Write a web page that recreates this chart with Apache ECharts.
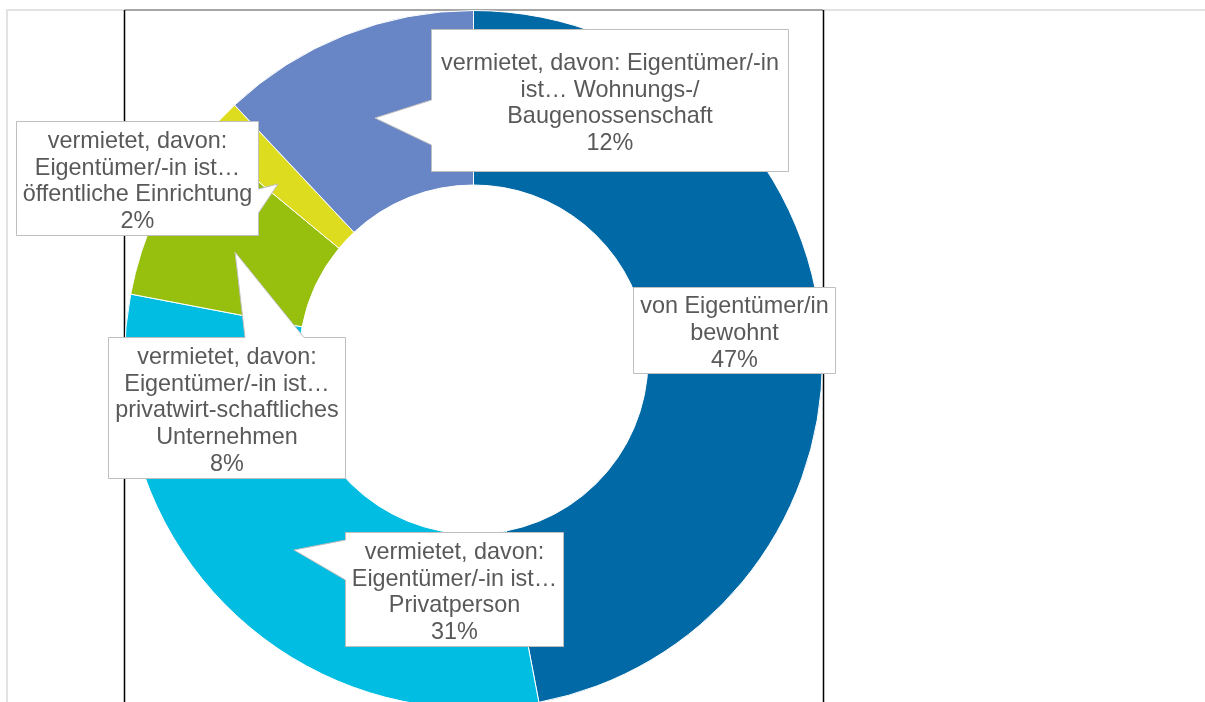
<!DOCTYPE html>
<html>
<head>
<meta charset="utf-8">
<title>Wohnverhältnis</title>
<script src="https://cdn.jsdelivr.net/npm/echarts@6/dist/echarts.min.js"></script>
<style>
  html, body { margin: 0; padding: 0; background: #ffffff; }
  #chart { width: 1205px; height: 702px; }
</style>
</head>
<body>
<div id="chart"></div>
<script>
// Categories of occupancy, in drawing order (clockwise from 12 o'clock)
const categories = [
  'von Eigentümer/in bewohnt',
  'vermietet, davon: Eigentümer/-in ist… Privatperson',
  'vermietet, davon: Eigentümer/-in ist… privatwirt-schaftliches Unternehmen',
  'vermietet, davon: Eigentümer/-in ist… öffentliche Einrichtung',
  'vermietet, davon: Eigentümer/-in ist… Wohnungs-/ Baugenossenschaft'
];

// Share of dwellings in percent
const shares = [47, 31, 8, 2, 12];

// Category names as they are wrapped inside the callouts
const wrappedNames = [
  'von Eigentümer/in\nbewohnt',
  'vermietet, davon:\nEigentümer/-in ist…\nPrivatperson',
  'vermietet, davon:\nEigentümer/-in ist…\nprivatwirt-schaftliches\nUnternehmen',
  'vermietet, davon:\nEigentümer/-in ist…\nöffentliche Einrichtung',
  'vermietet, davon: Eigentümer/-in\nist… Wohnungs-/\nBaugenossenschaft'
];

const sliceColors = ['#0069a6', '#00bde1', '#97bf0d', '#dedc1f', '#6886c5'];

// Callout boxes (left, top, right, bottom) and their pointers
const callouts = [
  { box: [633.5, 287.5, 835.5, 373.5], side: null },
  { box: [345.5, 532.5, 563.5, 646.5], side: 'left', base: [540, 580], tip: [294, 550] },
  { box: [108.5, 337.5, 345.5, 478.5], side: 'top', base: [245, 304], tip: [235, 252] },
  { box: [16.5, 121.5, 258.5, 235.5], side: 'right', base: [189, 213], tip: [278, 184] },
  { box: [431.5, 29.5, 788.5, 171.5], side: 'left', base: [100, 145], tip: [375, 118] }
];

function calloutPoints(c) {
  const [l, t, r, b] = c.box;
  if (c.side === 'left') {
    return [[l, t], [r, t], [r, b], [l, b], [l, c.base[1]], c.tip, [l, c.base[0]]];
  }
  if (c.side === 'right') {
    return [[l, t], [r, t], [r, c.base[0]], c.tip, [r, c.base[1]], [r, b], [l, b]];
  }
  if (c.side === 'top') {
    return [[l, t], [c.base[0], t], c.tip, [c.base[1], t], [r, t], [r, b], [l, b]];
  }
  return [[l, t], [r, t], [r, b], [l, b]];
}

const pieData = categories.map((name, i) => ({
  name: name,
  value: shares[i],
  itemStyle: { color: sliceColors[i] }
}));

const labelData = categories.map((name, i) => ({ name: name, value: shares[i] }));

const center = [473.5, 359.5];
const radius = [174.5, 349];

const graphics = [
  // outer chart frame
  { type: 'rect', shape: { x: 7, y: 10, width: 1230, height: 720 },
    style: { fill: null, stroke: '#e3e3e3', lineWidth: 2 }, z: 0, silent: true },
  // plot area edges
  { type: 'line', shape: { x1: 125, y1: 10, x2: 823, y2: 10 },
    style: { stroke: '#a6a6a6', lineWidth: 2 }, z: 1, silent: true },
  { type: 'line', shape: { x1: 124.5, y1: 10, x2: 124.5, y2: 702 },
    style: { stroke: '#000000', lineWidth: 1.5 }, z: 1, silent: true },
  { type: 'line', shape: { x1: 823.5, y1: 10, x2: 823.5, y2: 702 },
    style: { stroke: '#000000', lineWidth: 1.5 }, z: 1, silent: true }
].concat(callouts.map(c => ({
  type: 'polygon',
  shape: { points: calloutPoints(c) },
  style: { fill: '#ffffff', stroke: '#bfbfbf', lineWidth: 1 },
  z: 5,
  silent: true
})));

const chart = echarts.init(document.getElementById('chart'), null, { renderer: 'canvas' });

chart.setOption({
  backgroundColor: '#ffffff',
  animation: false,
  graphic: graphics,
  series: [
    {
      type: 'pie',
      z: 2,
      center: center,
      radius: radius,
      startAngle: 90,
      clockwise: true,
      silent: true,
      label: { show: false },
      labelLine: { show: false },
      itemStyle: { borderColor: '#ffffff', borderWidth: 1 },
      emphasis: { disabled: true },
      data: pieData
    },
    {
      type: 'pie',
      z: 10,
      center: center,
      radius: radius,
      startAngle: 90,
      clockwise: true,
      silent: true,
      avoidLabelOverlap: false,
      itemStyle: { color: 'rgba(0,0,0,0)' },
      emphasis: { disabled: true },
      labelLine: { show: false },
      label: {
        show: true,
        position: 'inside',
        fontFamily: '"Liberation Sans", Arial, sans-serif',
        fontSize: 23.4,
        lineHeight: 26.7,
        color: '#595959',
        align: 'center',
        formatter: p => wrappedNames[p.dataIndex] + '\n' + shares[p.dataIndex] + '%'
      },
      labelLayout: p => {
        const [l, t, r, b] = callouts[p.dataIndex].box;
        return { x: (l + r) / 2, y: (t + b) / 2 + 3, align: 'center', verticalAlign: 'middle' };
      },
      data: labelData
    }
  ]
});
</script>
</body>
</html>
